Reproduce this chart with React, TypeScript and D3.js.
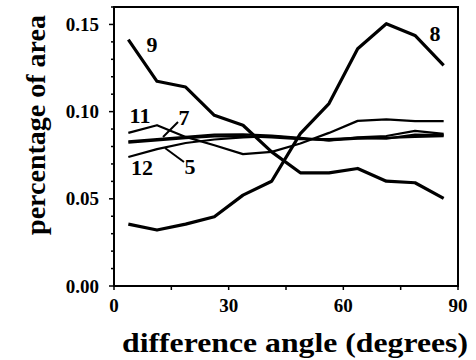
import React from 'react';
import * as d3 from 'd3';

// bin midpoints (degrees)
const angles = [3.75, 11.25, 18.75, 26.25, 33.75, 41.25, 48.75, 56.25, 63.75, 71.25, 78.75, 86.25];

const series8 = [0.0355, 0.0321, 0.0355, 0.0397, 0.0521, 0.0601, 0.0874, 0.1046, 0.1361, 0.1504, 0.1437, 0.1265];
const series9 = [0.1413, 0.1174, 0.1141, 0.0979, 0.0922, 0.0769, 0.0649, 0.0649, 0.0674, 0.0601, 0.0592, 0.0502];
const series11 = [0.0878, 0.0922, 0.0855, 0.0807, 0.0756, 0.0769, 0.0817, 0.0878, 0.0947, 0.0955, 0.0945, 0.0945];
const series12 = [0.0740, 0.0785, 0.0820, 0.0840, 0.0852, 0.0860, 0.0845, 0.0835, 0.0852, 0.0860, 0.0890, 0.0872];
const series7 = [0.0830, 0.0842, 0.0855, 0.0868, 0.0870, 0.0862, 0.0850, 0.0835, 0.0845, 0.0850, 0.0855, 0.0860];
const series5 = [0.0822, 0.0835, 0.0848, 0.0858, 0.0860, 0.0852, 0.0842, 0.0842, 0.0850, 0.0845, 0.0868, 0.0865];

const xTicks = [0, 30, 60, 90];
const yTicks = [0, 0.05, 0.1, 0.15];

const FONT = "'Liberation Serif', 'Times New Roman', Times, serif";

const App: React.FC = () => {
  const width = 476;
  const height = 360;

  const x = d3.scaleLinear().domain([0, 90]).range([114, 458]);
  const y = d3.scaleLinear().domain([0, 0.16]).range([286, 7]);

  const line = d3.line<number>()
    .x((_d, i) => x(angles[i]))
    .y(d => y(d));

  const thick = [series8, series9];
  const thin = [series11, series12, series7, series5];

  const minorY = d3.range(0, 0.1601, 0.01);
  const minorX = d3.range(0, 91, 15);

  return (
    <svg width={width} height={height}
      style={{ position: 'absolute', left: 0, top: 0, background: '#fff', fontFamily: FONT, fontWeight: 'bold' }}>
      {/* frame */}
      <rect x={x(0)} y={y(0.16)} width={x(90) - x(0)} height={y(0) - y(0.16)} fill="none" stroke="#000" strokeWidth={2} />

      {/* y ticks */}
      {minorY.map((v, i) => (
        <line key={'ym' + i} x1={x(0) - (i % 5 === 0 ? 5 : 3)} x2={x(0)} y1={y(v)} y2={y(v)} stroke="#000" strokeWidth={1.5} />
      ))}
      {yTicks.map(v => (
        <text key={'yt' + v} x={99} y={y(v)} dy="0.35em" textAnchor="end" fontSize={19}>{v.toFixed(2)}</text>
      ))}

      {/* x ticks */}
      {minorX.map(v => (
        <line key={'xm' + v} x1={x(v)} x2={x(v)} y1={y(0)} y2={y(0) + 4} stroke="#000" strokeWidth={1.5} />
      ))}
      {xTicks.map(v => (
        <text key={'xt' + v} x={x(v)} y={312} textAnchor="middle" fontSize={19}>{v}</text>
      ))}

      {/* series */}
      {thin.map((s, i) => (
        <path key={'thin' + i} d={line(s) || ''} fill="none" stroke="#000" strokeWidth={2.2} strokeLinejoin="round" />
      ))}
      {thick.map((s, i) => (
        <path key={'thick' + i} d={line(s) || ''} fill="none" stroke="#000" strokeWidth={3.2} strokeLinejoin="round" />
      ))}

      {/* pointer lines for 7 and 5 */}
      <line x1={163} y1={137} x2={178} y2={122} stroke="#000" strokeWidth={2} />
      <line x1={165} y1={148} x2={184} y2={162} stroke="#000" strokeWidth={2} />

      {/* series labels */}
      <g fontSize={22}>
        <text x={152} y={52} textAnchor="middle">9</text>
        <text x={435} y={41} textAnchor="middle">8</text>
        <text x={140} y={123} textAnchor="middle">11</text>
        <text x={184} y={125} textAnchor="middle">7</text>
        <text x={142} y={175} textAnchor="middle">12</text>
        <text x={190} y={174} textAnchor="middle">5</text>
      </g>

      {/* axis titles */}
      <text x={122} y={352} fontSize={28} textLength={346} lengthAdjust="spacingAndGlyphs">difference angle (degrees)</text>
      <text transform="translate(45,125) rotate(-90)" textAnchor="middle" fontSize={28}>percentage of area</text>
    </svg>
  );
};

export default App;
